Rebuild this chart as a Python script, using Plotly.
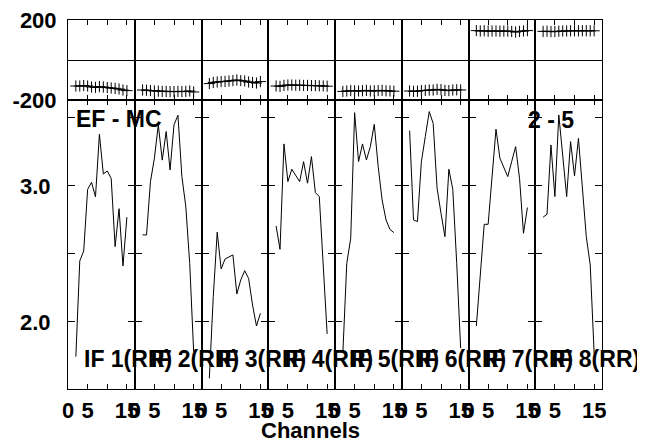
import plotly.graph_objects as go
from plotly.subplots import make_subplots

# ---------------- data ----------------
channels = [2, 3, 4, 5, 6, 7, 8, 9, 10, 11, 12, 13, 14, 15]

amp_if1 = [1.745, 2.449, 2.522, 2.975, 3.027, 2.920, 3.380, 3.088, 3.110, 3.056, 2.554, 2.833, 2.412, 2.770]
amp_if2 = [2.640, 2.640, 3.032, 3.203, 3.449, 3.190, 3.400, 3.118, 3.449, 3.520, 3.070, 2.850, 2.430, 1.780]
amp_if3 = [1.586, 2.186, 2.660, 2.390, 2.463, 2.478, 2.493, 2.206, 2.309, 2.377, 2.320, 2.125, 1.970, 2.064]
amp_if4 = [2.706, 2.534, 3.309, 3.032, 3.123, 3.076, 3.032, 3.179, 3.020, 3.216, 2.951, 2.922, 2.417, 1.912]
amp_if5 = [1.770, 2.431, 2.615, 3.539, 3.179, 3.309, 3.191, 3.289, 3.453, 3.142, 2.897, 2.750, 2.680, 2.657]
amp_if6 = [3.407, 2.750, 2.738, 3.179, 3.363, 3.547, 3.460, 2.983, 2.799, 2.627, 3.123, 2.975, 2.431, 1.806]
amp_if7 = [1.970, 2.345, 2.718, 2.718, 3.070, 3.417, 3.203, 3.130, 3.069, 3.180, 3.289, 3.056, 2.652, 2.841]
amp_if8 = [2.770, 2.792, 3.301, 2.922, 3.522, 3.223, 2.922, 3.326, 3.074, 3.350, 2.988, 2.627, 2.419, 1.770]

phase_if1 = [-130, -130, -128, -130, -135, -137, -133, -135, -138, -140, -142, -145, -150, -153]
phase_if2 = [-150, -151, -153, -155, -156, -157, -157, -158, -158, -157, -158, -157, -155, -160]
phase_if3 = [-118, -112, -110, -108, -107, -105, -103, -100, -103, -105, -110, -112, -115, -108]
phase_if4 = [-130, -132, -127, -125, -125, -126, -126, -127, -127, -128, -128, -129, -130, -131]
phase_if5 = [-157, -155, -153, -154, -155, -154, -152, -155, -154, -153, -152, -154, -155, -156]
phase_if6 = [-155, -157, -156, -153, -152, -150, -150, -147, -148, -152, -153, -150, -149, -150]
phase_if7 = [147, 145, 146, 144, 145, 145, 144, 145, 145, 143, 140, 143, 145, 147]
phase_if8 = [143, 144, 142, 142, 144, 145, 145, 146, 146, 146, 146, 146, 146, 146]

panel_labels = ["IF 1(RR)", "IF 2(RR)", "IF 3(RR)", "IF 4(RR)",
                "IF 5(RR)", "IF 6(RR)", "IF 7(RR)", "IF 8(RR)"]
x_tickvals = [0, 5, 10, 15]
x_ticktext = ["0", "5", "", "15"]
amp_tickvals = [2.0, 2.5, 3.0, 3.5]
amp_ticktext = ["2.0", "", "3.0", ""]
phase_tickvals = [-200, 0, 200]
phase_ticktext = ["-200", "", "200"]
baseline_label = "EF - MC"
stokes_label = "2 - 5"
x_title = "Channels"

amps = [amp_if1, amp_if2, amp_if3, amp_if4, amp_if5, amp_if6, amp_if7, amp_if8]
phases = [phase_if1, phase_if2, phase_if3, phase_if4, phase_if5, phase_if6, phase_if7, phase_if8]

# ---------------- figure ----------------
# the page body has an 8px margin, so the figure is drawn 8px in from the corner
OFF = 8
W, H = 645 - OFF, 442 - OFF
ML, MR, MT, MB = 68 - OFF, 43, 20 - OFF, 53
PW, PH = W - ML - MR, H - MT - MB
FONT = "Liberation Sans, Arial, Helvetica, sans-serif"


def px_x(x):  # page pixel -> paper x
    return (x - OFF - ML) / PW


def px_y(y):  # page pixel -> paper y
    return (H - MB - (y - OFF)) / PH


fig = make_subplots(rows=2, cols=8, row_heights=[80, 289],
                    horizontal_spacing=0, vertical_spacing=0)

for i in range(8):
    fig.add_trace(go.Scatter(
        x=channels, y=phases[i], mode="lines+markers",
        line=dict(color="black", width=1),
        marker=dict(symbol="cross-thin", size=8, line=dict(color="black", width=1)),
        showlegend=False, hoverinfo="skip"), row=1, col=i + 1)
    fig.add_trace(go.Scatter(
        x=channels, y=amps[i], mode="lines",
        line=dict(color="black", width=1),
        showlegend=False, hoverinfo="skip"), row=2, col=i + 1)

common_axis = dict(showline=True, linecolor="black", linewidth=1, mirror="ticks",
                   ticks="inside", tickcolor="black", tickwidth=1,
                   showgrid=False, zeroline=False, automargin=False,
                   ticklabeloverflow="allow",
                   tickfont=dict(family=FONT, size=22, color="black", weight="bold"))

for i in range(8):
    for r in (1, 2):
        fig.update_xaxes(common_axis, row=r, col=i + 1, range=[0, 17],
                         tickvals=x_tickvals, ticktext=x_ticktext, ticklen=5,
                         showticklabels=(r == 2), ticklabelstandoff=2)
    fig.update_yaxes(common_axis, row=1, col=i + 1, range=[-200, 200],
                     tickvals=phase_tickvals, ticktext=phase_ticktext, ticklen=6,
                     zeroline=True, zerolinecolor="black", zerolinewidth=1,
                     showticklabels=(i == 0), ticklabelstandoff=6)
    fig.update_yaxes(common_axis, row=2, col=i + 1, range=[1.507, 3.632],
                     tickvals=amp_tickvals, ticktext=amp_ticktext, ticklen=7,
                     showticklabels=(i == 0), ticklabelstandoff=12)

lab_font = dict(family=FONT, size=23, color="black", weight="bold")
for i in range(8):
    left = 68.3 + i * 66.75
    fig.add_annotation(text=panel_labels[i], xref="paper", yref="paper",
                       x=px_x(left + 14), y=px_y(359),
                       xanchor="left", yanchor="middle", showarrow=False, font=lab_font)

fig.add_annotation(text=baseline_label, xref="paper", yref="paper",
                   x=px_x(74), y=px_y(119), xanchor="left", yanchor="middle",
                   showarrow=False, font=lab_font)
fig.add_annotation(text=stokes_label, xref="paper", yref="paper",
                   x=px_x(551), y=px_y(120),
                   xanchor="center", yanchor="middle", showarrow=False, font=lab_font)
fig.add_annotation(text=x_title, xref="paper", yref="paper",
                   x=px_x(310), y=px_y(430),
                   xanchor="center", yanchor="middle", showarrow=False,
                   font=dict(family=FONT, size=22, color="black", weight="bold"))

fig.update_layout(width=W, height=H, margin=dict(l=ML, r=MR, t=MT, b=MB),
                  paper_bgcolor="white", plot_bgcolor="white",
                  font=dict(family=FONT, color="black"))

fig.write_html("out.html")
